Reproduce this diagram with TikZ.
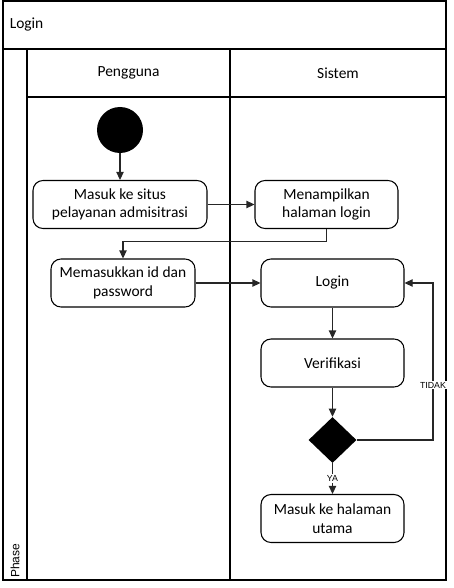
\documentclass[tikz,border=0pt]{standalone}
\usepackage{fontspec}
\setmainfont{Carlito}
\newfontfamily\lblfont{Liberation Sans}
\usetikzlibrary{arrows.meta,shapes.geometric}
\begin{document}
\begin{tikzpicture}[x=0.75pt,y=-0.75pt,
  frame/.style={line width=1pt,draw=black},
  act/.style={draw=black,line width=0.8pt,rounded corners=7.5pt,align=center,
    minimum width=107.25pt,minimum height=36pt,inner sep=2pt,
    font=\fontsize{11.6}{14}\selectfont},
  arr/.style={draw=black!85,line width=0.8pt,-{Triangle[length=6pt,width=5.5pt]}},
  lbl/.style={fill=white,inner sep=1pt,font=\lblfont\fontsize{6.6}{7}\selectfont},
  hdr/.style={font=\fontsize{11.6}{14}\selectfont}]
\useasboundingbox (0,0) rectangle (453,588);
% frames
\draw[frame] (3,1) rectangle (446,580);
\draw[frame] (3,49) -- (446,49);
\draw[frame] (27,49) -- (27,580);
\draw[frame] (230,49) -- (230,580);
\draw[frame] (27,97) -- (446,97);
\node[hdr,anchor=west,inner sep=0] (title) at (9.5,25) {Login};
\node[hdr] (lane1) at (128.5,73) {Pengguna};
\node[hdr] (lane2) at (338,73) {Sistem};
\node[rotate=90,anchor=west,inner sep=0,font=\lblfont\fontsize{9}{10}\selectfont] (phase) at (15,578) {Phase};
% nodes
\node[circle,fill=black,minimum size=34.5pt,inner sep=0] (start) at (120,130) {};
\node[act,minimum width=130.5pt] (b1) at (120,204.5) {Masuk ke situs\\pelayanan admisitrasi};
\node[act] (b2) at (326.5,204.5) {Menampilkan\\halaman login};
\node[act,minimum width=108pt] (b3) at (123,283) {Memasukkan id dan\\password};
\node[act] (login) at (332.5,283) {Login};
\node[act] (verif) at (332.5,363) {Verifikasi};
\node[diamond,fill=black,minimum width=36pt,minimum height=34.5pt,inner sep=0,aspect=1.04] (dia) at (332.5,440) {};
\node[act] (fin) at (332.5,518.5) {Masuk ke halaman\\utama};
\coordinate (lx) at (433,0);
% connectors
\draw[arr] (start) -- (b1);
\draw[arr] (b1) -- (b2);
\draw[arr] (b2.south) -- ++(0,12) -| (b3.north);
\draw[arr] (b3) -- (login);
\draw[arr] (login) -- (verif);
\draw[arr] (verif) -- (dia);
\draw[arr] (dia) -- node[lbl,pos=0.5]{YA} (fin);
\draw[arr] (dia.east) -- (dia.east -| lx) -- node[lbl,pos=0.35]{TIDAK} (login.east -| lx) -- (login.east);
\end{tikzpicture}
\end{document}
